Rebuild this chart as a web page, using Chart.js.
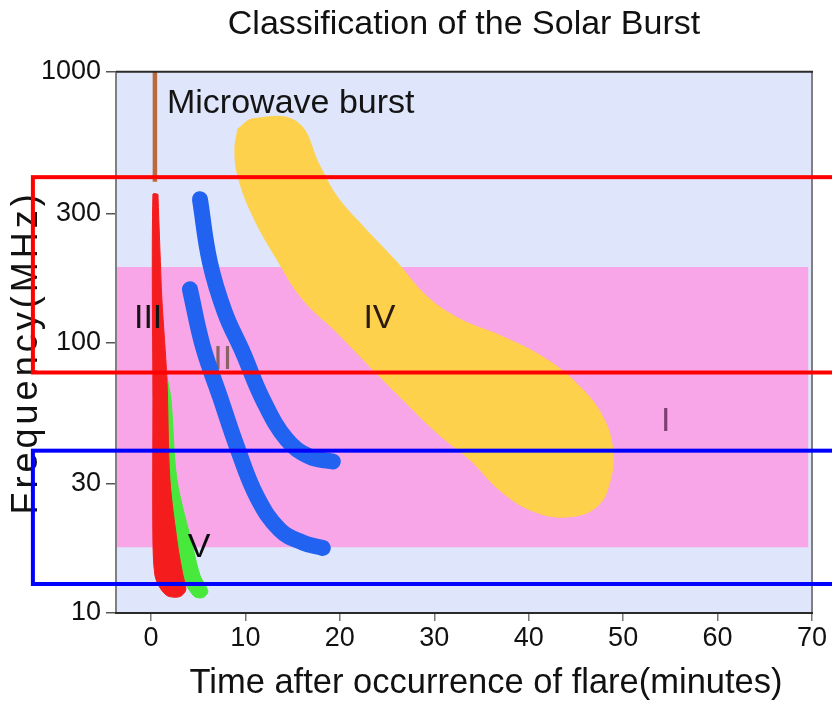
<!DOCTYPE html>
<html><head><meta charset="utf-8">
<script src="https://cdn.jsdelivr.net/npm/chart.js@4.4.1/dist/chart.umd.min.js"></script>
<style>html,body{margin:0;padding:0;background:#fff}#wrap{width:832px;height:701px;position:relative}</style>
</head><body><div id="wrap"><canvas id="c"></canvas></div>
<script>
// ---------- data ----------
const chartTitle = 'Classification of the Solar Burst';
const xAxisTitle = 'Time after occurrence of flare(minutes)';
const yAxisTitle = 'Frequency(MHz)';
const xTickValues = [0, 10, 20, 30, 40, 50, 60, 70];
const yTickValues = [10, 30, 100, 300, 1000];
const yTickLabels = ['10', '30', '100', '300', '1000'];
const timeRange = [-3.7, 70];
const freqRange = [10, 1000];

// Type I (noise storm) band
const typeI_time = [-3.7, 69.6, 69.6, -3.7, -3.7];
const typeI_freq = [190, 190, 17.5, 17.5, 190];

// Microwave burst
const microwave_time = [0.42, 0.42];
const microwave_freq = [1000, 392];

// Type IV
const typeIV_time = [9.21, 10.79, 15.45, 17.88, 19.68, 22.43, 26.03, 29.21, 32.70, 37.25, 41.90, 45.40, 47.83, 48.89, 48.57, 47.20, 44.34, 40.85, 37.25, 33.76, 30.26, 26.67, 23.17, 19.68, 16.08, 13.33, 10.79, 9.21, 8.89, 9.21];
const typeIV_freq = [615, 670, 653, 449, 347, 269, 198, 148, 122, 105, 86.5, 68.7, 53.2, 40.2, 30.3, 24.7, 22.7, 23.5, 27.8, 36.9, 46.4, 61.5, 81.5, 109, 144, 203, 293, 412, 519, 615];

// Type II (fundamental / harmonic lanes)
const typeIIa_time = [5.19, 6.24, 7.83, 9.74, 11.85, 14.39, 16.83, 19.26];
const typeIIa_freq = [338, 198, 129, 91.8, 61.5, 43.7, 37.8, 36.3];
const typeIIb_time = [4.13, 5.50, 7.30, 9.10, 11.22, 13.65, 16.08, 18.20];
const typeIIb_freq = [157, 96.6, 63.1, 41.2, 26.9, 20.3, 18.2, 17.4];

// Type III
const typeIII_time = [0.74, 0.95, 1.16, 1.69, 2.01, 2.86, 3.39, 3.70, 3.07, 1.80, 0.95, 0.42, 0.21, 0.21, 0.21, 0.74];
const typeIII_freq = [353, 221, 144, 73.3, 31.1, 17.5, 13.8, 12.2, 11.5, 11.55, 12.4, 13.8, 18.6, 61.5, 353, 353];

// Type V
const typeV_time = [1.69, 2.12, 2.75, 4.44, 5.19, 6.03, 5.50, 4.55, 3.28, 2.75, 1.90, 1.48, 1.69];
const typeV_freq = [74.8, 61.5, 31.1, 17.5, 13.8, 12.0, 11.4, 11.55, 13.8, 17.5, 31.1, 61.5, 74.8];

// Region labels
const labelTexts = ['Microwave burst', 'III', 'II', 'IV', 'I', 'V'];
const labelTime = [1.7, -0.3, 7.6, 24.2, 54.5, 5.1];
const labelFreq = [760, 122, 86.5, 122.7, 50.9, 17.5];

// Highlight frequency bands (outlined boxes)
const bandLow = [77.4, 12.8];
const bandHigh = [408, 39.8];
const bandStartTime = -12.5;

// ---------- styles ----------
const FONT = "'Liberation Sans', Arial, sans-serif";
const labelColors = ['#141414', '#141414', '#8a6464', '#2a1a10', '#7d3f72', '#0c0c0c'];
const labelAlign = ['left', 'center', 'center', 'center', 'center', 'center'];
const labelUnder = [false, false, true, false, false, false];
const bandColors = ['#ff0000', '#0000ff'];

const pts = (xs, ys) => xs.map((x, i) => ({x: x, y: ys[i]}));

const datasets = [
  {label: 'I', data: pts(typeI_time, typeI_freq), fill: 'shape', backgroundColor: '#f8a6e7', borderWidth: 0, tension: 0, order: 10},
  {label: 'IV', data: pts(typeIV_time, typeIV_freq), fill: 'shape', backgroundColor: '#fdd14c', borderColor: '#fdd14c', borderWidth: 1, tension: 0.4, order: 9},
  {label: 'IIa', data: pts(typeIIa_time, typeIIa_freq), fill: false, borderColor: '#2262f0', borderWidth: 16, borderCapStyle: 'round', borderJoinStyle: 'round', tension: 0.4, order: 8},
  {label: 'IIb', data: pts(typeIIb_time, typeIIb_freq), fill: false, borderColor: '#2262f0', borderWidth: 16, borderCapStyle: 'round', borderJoinStyle: 'round', tension: 0.4, order: 7},
  {label: 'V', data: pts(typeV_time, typeV_freq), fill: 'shape', backgroundColor: '#48e83c', borderColor: '#48e83c', borderWidth: 1, tension: 0.3, order: 6},
  {label: 'III', data: pts(typeIII_time, typeIII_freq), fill: 'shape', backgroundColor: '#f41c1c', borderColor: '#f41c1c', borderWidth: 1, tension: 0.3, order: 5},
  {label: 'Microwave', data: pts(microwave_time, microwave_freq), fill: false, borderColor: '#b86a3c', borderWidth: 4.5, tension: 0, order: 4}
];

function drawLabel(chart, i) {
  const ctx = chart.ctx, xs = chart.scales.x, ys = chart.scales.y;
  ctx.save();
  ctx.font = 'normal 34px ' + FONT;
  ctx.fillStyle = labelColors[i];
  ctx.textAlign = labelAlign[i];
  ctx.textBaseline = 'middle';
  ctx.fillText(labelTexts[i], xs.getPixelForValue(labelTime[i]), ys.getPixelForValue(labelFreq[i]));
  ctx.restore();
}

const decor = {
  id: 'decor',
  beforeDatasetsDraw(chart) {
    const {ctx, chartArea: a} = chart;
    ctx.save();
    ctx.fillStyle = '#dfe6fb';
    ctx.fillRect(a.left, a.top, a.right - a.left, a.bottom - a.top);
    ctx.restore();
  },
  afterDatasetDraw(chart, args) {
    if (args.index === 0) {
      labelTexts.forEach((t, i) => { if (labelUnder[i]) drawLabel(chart, i); });
    }
  },
  afterDatasetsDraw(chart) {
    labelTexts.forEach((t, i) => { if (!labelUnder[i]) drawLabel(chart, i); });
    const {ctx, chartArea: a} = chart;
    ctx.save();
    ctx.lineWidth = 2;
    ctx.strokeStyle = '#808080';
    ctx.beginPath();
    ctx.moveTo(a.left, a.top); ctx.lineTo(a.left, a.bottom);
    ctx.moveTo(a.right, a.top); ctx.lineTo(a.right, a.bottom);
    ctx.stroke();
    ctx.strokeStyle = '#2a2a2a';
    ctx.beginPath();
    ctx.moveTo(a.left, a.top); ctx.lineTo(a.right + 1, a.top);
    ctx.moveTo(a.left - 1, a.bottom); ctx.lineTo(a.right + 1, a.bottom);
    ctx.stroke();
    ctx.restore();
  },
  afterDraw(chart) {
    const ctx = chart.ctx, xs = chart.scales.x, ys = chart.scales.y, a = chart.chartArea;
    // axis titles
    ctx.save();
    ctx.fillStyle = '#111';
    ctx.textAlign = 'center';
    ctx.textBaseline = 'middle';
    ctx.font = 'normal 34.5px ' + FONT;
    ctx.fillText(xAxisTitle, (a.left + a.right) / 2 + 22, a.bottom + 70);
    ctx.translate(27, (a.top + a.bottom) / 2 + 10);
    ctx.rotate(-Math.PI / 2);
    ctx.font = 'normal 36px ' + FONT;
    if ('letterSpacing' in ctx) ctx.letterSpacing = '4px';
    ctx.fillText(yAxisTitle, 0, 0);
    ctx.restore();
    // highlight boxes
    ctx.save();
    ctx.lineWidth = 4;
    bandLow.forEach((lo, i) => {
      const top = ys.getPixelForValue(bandHigh[i]);
      const bot = ys.getPixelForValue(lo);
      const left = xs.getPixelForValue(bandStartTime);
      ctx.strokeStyle = bandColors[i];
      ctx.strokeRect(left, top, chart.width + 20 - left, bot - top);
    });
    ctx.restore();
  }
};

new Chart(document.getElementById('c'), {
  type: 'line',
  data: {datasets: datasets},
  options: {
    responsive: true,
    maintainAspectRatio: false,
    animation: false,
    parsing: true,
    elements: {point: {radius: 0, hoverRadius: 0}},
    layout: {padding: {left: 0, right: 20, top: 0, bottom: 0}},
    plugins: {
      legend: {display: false},
      tooltip: {enabled: false},
      title: {
        display: true, text: chartTitle, fullSize: false, color: '#111',
        font: {family: FONT, size: 34, weight: 'normal'},
        padding: {top: 4, bottom: 27}
      }
    },
    scales: {
      x: {
        type: 'linear', position: 'bottom', min: timeRange[0], max: timeRange[1],
        afterBuildTicks: s => { s.ticks = xTickValues.map(v => ({value: v})); },
        afterFit: s => { s.height = 88; },
        ticks: {color: '#111', font: {family: FONT, size: 27}, padding: 1, maxRotation: 0, autoSkip: false},
        grid: {drawOnChartArea: false, drawTicks: true, tickLength: 8, color: '#777', lineWidth: 1.5},
        border: {display: false},
        title: {display: false}
      },
      y: {
        type: 'logarithmic', position: 'left', min: freqRange[0], max: freqRange[1],
        afterBuildTicks: s => { s.ticks = yTickValues.map(v => ({value: v})); },
        afterFit: s => { s.width = 116; },
        ticks: {color: '#111', font: {family: FONT, size: 27}, padding: 5,
          callback: (v) => { const k = yTickValues.indexOf(v); return k >= 0 ? yTickLabels[k] : ''; }},
        grid: {drawOnChartArea: false, drawTicks: true, tickLength: 10, color: '#555', lineWidth: 1.5},
        border: {display: false},
        title: {display: false}
      }
    }
  },
  plugins: [decor]
});
</script>
</body></html>
